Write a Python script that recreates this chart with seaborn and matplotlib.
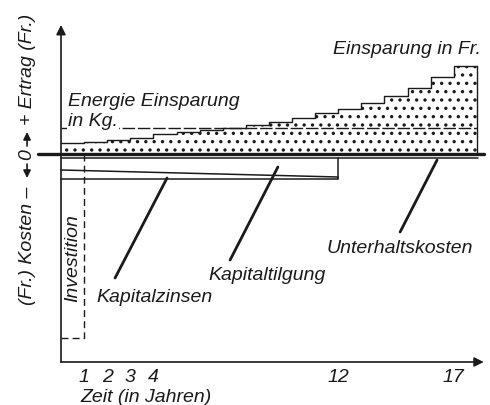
import numpy as np
import pandas as pd
import matplotlib
matplotlib.use('Agg')
import matplotlib.pyplot as plt
import seaborn as sns

# Savings in Fr. per year (step heights, years 0..17, last step ends at year 18)
years = [0, 1, 2, 3, 4, 5, 6, 7, 8, 9, 10, 11, 12, 13, 14, 15, 16, 17, 18]
savings_fr = [11, 12, 14, 16, 20, 22, 24, 26, 29, 32, 36, 41, 45, 51, 58, 66, 77, 88]
savings_kg = 26.5

# Cost side (negative values)
maintenance = -4            # Unterhaltskosten, whole period
repay_years = [0, 12]       # Kapitaltilgung / Kapitalzinsen period
repay_bottom = [-16, -23]   # boundary between Tilgung and Zinsen
annuity_bottom = -24.5      # bottom of Kapitalzinsen
investment = -184           # Investition in year 0..1
axis_bottom = -208

tick_years = [1, 2, 3, 4, 12, 17]

sns.set_theme(style="white")
plt.rcParams['font.family'] = ['Liberation Sans', 'DejaVu Sans']
plt.rcParams['font.style'] = 'italic'
plt.rcParams['hatch.linewidth'] = 1.2

fig = plt.figure(figsize=(4.9, 4.05), dpi=100)
ax = fig.add_axes([0, 0, 1, 1])
ax.set_xlim(-61 / 23.1, (490 - 61) / 23.1)
ax.set_ylim(154 - 405, 154)
ax.axis('off')

fs = 14
ink = '#1a1a1a'

# Einsparung in Fr. - stepped, dotted area
step_vals = savings_fr + [savings_fr[-1]]
df = pd.DataFrame({'Jahr': years, 'Fr': step_vals})
ax.fill_between(df['Jahr'], 0, df['Fr'], step='post', facecolor='white',
                edgecolor=ink, hatch='..', linewidth=0)
sns.lineplot(data=df, x='Jahr', y='Fr', drawstyle='steps-post', color=ink,
             linewidth=1.0, estimator=None, ax=ax)
ax.plot([years[-1], years[-1]], [0, savings_fr[-1]], color=ink, lw=1.0)

# Energie Einsparung in Kg (constant)
ax.plot([years[0], years[-1]], [savings_kg, savings_kg], color=ink, lw=1.0,
        dashes=(9, 2))

# Costs
ax.plot([years[0], years[-1] + 0.05], [maintenance, maintenance], color=ink, lw=1.1)
ax.plot(repay_years, repay_bottom, color=ink, lw=1.1)
ax.plot(repay_years, [annuity_bottom, annuity_bottom], color=ink, lw=1.1)
ax.plot([repay_years[1], repay_years[1]], [maintenance, annuity_bottom], color=ink, lw=1.1)

# Investition (dashed box)
ax.plot([0, 1, 1], [investment, investment, 0], color=ink, lw=1.0, dashes=(5, 3))

# zero line
ax.plot([-1.0, 18.3], [0, 0], color=ink, lw=2.4)

# axes with arrow heads
ax.annotate('', xy=(0, 129), xytext=(0, axis_bottom),
            arrowprops=dict(arrowstyle='-|>', color=ink, lw=1.2,
                            mutation_scale=14, shrinkA=0, shrinkB=0))
ax.annotate('', xy=(18.3, axis_bottom), xytext=(0, axis_bottom),
            arrowprops=dict(arrowstyle='-|>', color=ink, lw=1.2,
                            mutation_scale=14, shrinkA=0, shrinkB=0))

# x tick labels
for t in tick_years:
    ax.text(t, -223, str(t), ha='center', va='center', fontsize=fs, color=ink)
ax.text(0.82, -243, 'Zeit (in Jahren)', ha='left', va='center', fontsize=fs, color=ink)

# labels
ax.text(0.3, 53, 'Energie Einsparung', ha='left', va='center', fontsize=fs, color=ink)
ax.text(0.3, 32, 'in Kg.', ha='left', va='center', fontsize=fs, color=ink,
        bbox=dict(facecolor='white', edgecolor='none', pad=0.5))
ax.text(11.78, 104, 'Einsparung in Fr.', ha='left', va='center', fontsize=fs, color=ink)
ax.text(11.5, -94, 'Unterhaltskosten', ha='left', va='center', fontsize=fs, color=ink)
ax.text(6.36, -122, 'Kapitaltilgung', ha='left', va='center', fontsize=fs, color=ink)
ax.text(1.52, -143, 'Kapitalzinsen', ha='left', va='center', fontsize=fs, color=ink)
ax.text(0.52, -104, 'Investition', ha='center', va='center', rotation=90,
        fontsize=fs, color=ink)

# leader lines
ax.plot([4.59, 2.34], [-24, -124], color=ink, lw=2.0)
ax.plot([9.39, 7.32], [-13, -106], color=ink, lw=2.0)
ax.plot([16.28, 14.68], [-6, -78], color=ink, lw=2.0)

# vertical axis label
lx = -1.47
ax.text(lx, 29, '+ Ertrag (Fr.)', ha='center', va='bottom', rotation=90,
        fontsize=fs, color=ink)
ax.text(lx, -1, '0', ha='center', va='center', rotation=90, fontsize=fs, color=ink)
ax.text(lx, -33, '(Fr.) Kosten \u2013', ha='center', va='top', rotation=90,
        fontsize=fs, color=ink)
for y0, y1 in [(8, 22), (-10, -24)]:
    ax.annotate('', xy=(lx, y1), xytext=(lx, y0),
                arrowprops=dict(arrowstyle='-|>', color=ink, lw=1.2,
                                mutation_scale=11, shrinkA=0, shrinkB=0))

fig.savefig('out.png', dpi=100)
plt.close(fig)
